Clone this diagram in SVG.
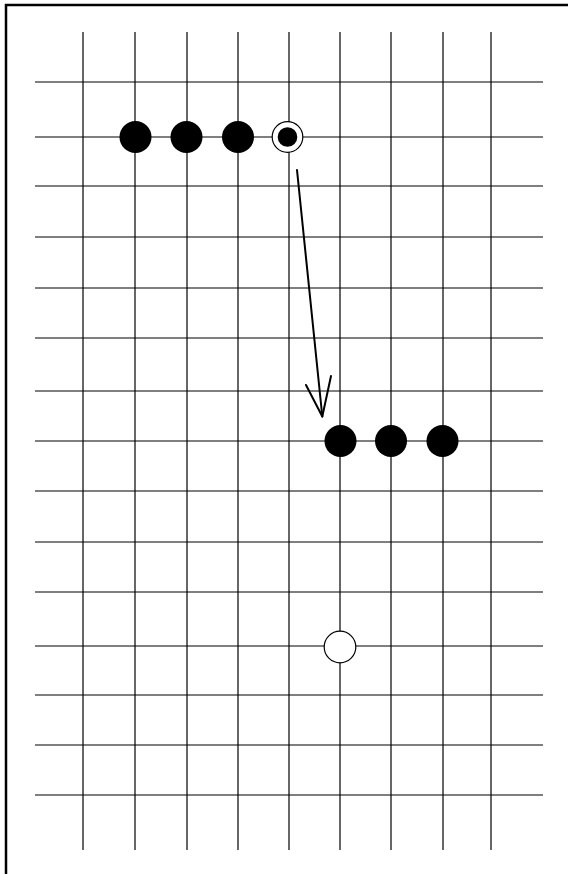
<svg xmlns="http://www.w3.org/2000/svg" width="568" height="874" viewBox="0 0 568 874">
<style>
.grid line{stroke:#000;stroke-width:1.2}
.blk{fill:#000}
.wht{fill:#fff;stroke:#000;stroke-width:1.2}
.arr{stroke:#000;stroke-width:2;fill:none;stroke-linecap:round;stroke-linejoin:round}
</style>
<rect width="568" height="874" fill="#fff"/>
<rect x="6" y="5" width="600" height="900" fill="none" stroke="#000" stroke-width="2.5"/>
<g id="board" class="grid">
<line x1="83" y1="32" x2="83" y2="850"/>
<line x1="135" y1="32" x2="135" y2="850"/>
<line x1="187" y1="32" x2="187" y2="850"/>
<line x1="238" y1="32" x2="238" y2="850"/>
<line x1="289" y1="32" x2="289" y2="850"/>
<line x1="340" y1="32" x2="340" y2="850"/>
<line x1="391" y1="32" x2="391" y2="850"/>
<line x1="443" y1="32" x2="443" y2="850"/>
<line x1="491" y1="32" x2="491" y2="850"/>
<line x1="35" y1="82" x2="543" y2="82"/>
<line x1="35" y1="137" x2="543" y2="137"/>
<line x1="35" y1="186" x2="543" y2="186"/>
<line x1="35" y1="237" x2="543" y2="237"/>
<line x1="35" y1="288" x2="543" y2="288"/>
<line x1="35" y1="338" x2="543" y2="338"/>
<line x1="35" y1="391" x2="543" y2="391"/>
<line x1="35" y1="441" x2="543" y2="441"/>
<line x1="35" y1="491" x2="543" y2="491"/>
<line x1="35" y1="542" x2="543" y2="542"/>
<line x1="35" y1="592" x2="543" y2="592"/>
<line x1="35" y1="646" x2="543" y2="646"/>
<line x1="35" y1="695" x2="543" y2="695"/>
<line x1="35" y1="745" x2="543" y2="745"/>
<line x1="35" y1="795" x2="543" y2="795"/>
</g>
<g id="stone-b1"><circle class="blk" cx="135.5" cy="137" r="16"/></g>
<g id="stone-b2"><circle class="blk" cx="186.5" cy="137" r="16"/></g>
<g id="stone-b3"><circle class="blk" cx="238" cy="137" r="16"/></g>
<g id="stone-marked"><circle class="wht" cx="287.5" cy="137" r="15.3"/><circle class="blk" cx="287.5" cy="137" r="9.8"/></g>
<g id="stone-b4"><circle class="blk" cx="340.5" cy="441" r="16"/></g>
<g id="stone-b5"><circle class="blk" cx="391" cy="441" r="16"/></g>
<g id="stone-b6"><circle class="blk" cx="442.5" cy="441" r="16"/></g>
<g id="stone-w1"><circle class="wht" cx="340" cy="647" r="15.8"/></g>
<g id="connectors">
<path class="arr" d="M297 170 L322.3 416.5"/>
<path class="arr" d="M306 385 L322.3 416.5 L331 376"/>
</g>
</svg>
